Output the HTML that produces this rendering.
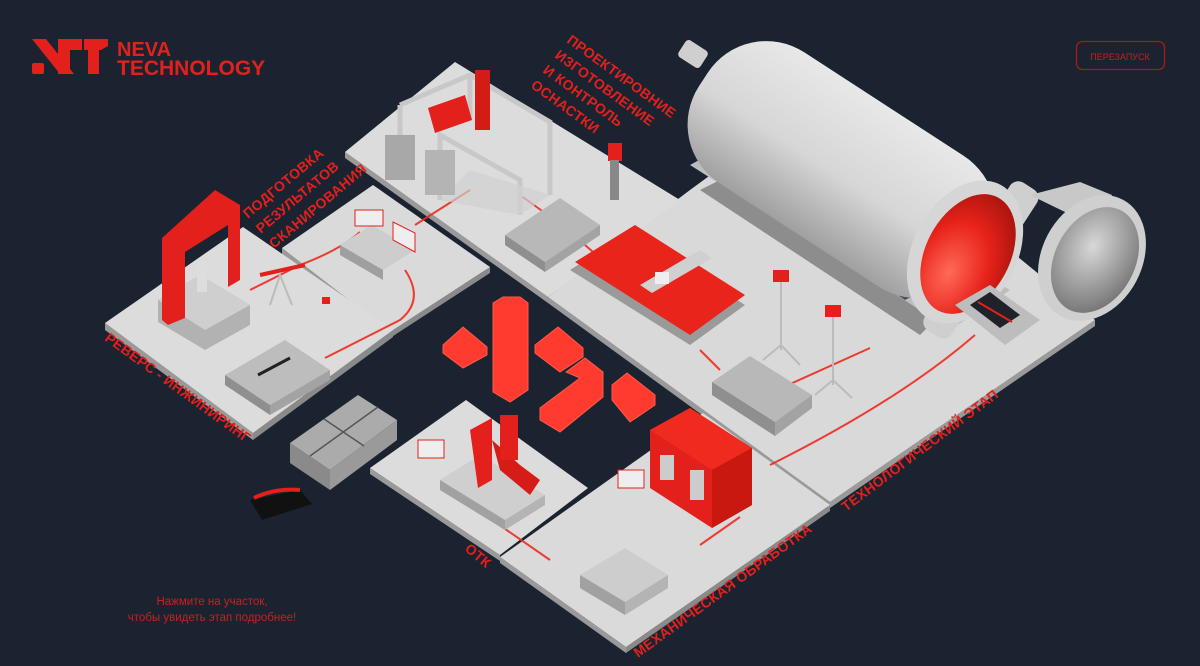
<!DOCTYPE html>
<html><head><meta charset="utf-8"><style>
html,body{margin:0;padding:0;background:#1b2331;}
body{width:1200px;height:666px;overflow:hidden;position:relative;font-family:"Liberation Sans",sans-serif;}
svg{position:absolute;left:0;top:0;}
.lbl{font-family:"Liberation Sans",sans-serif;font-weight:bold;fill:#e3201b;font-size:14px;letter-spacing:0.3px;}
</style></head><body>
<svg width="1200" height="666" viewBox="0 0 1200 666" xmlns="http://www.w3.org/2000/svg">
<defs>
<linearGradient id="cyl" x1="0" y1="0" x2="0" y2="1">
<stop offset="0" stop-color="#e8e8e8"/><stop offset="0.55" stop-color="#d6d6d6"/><stop offset="1" stop-color="#a0a0a0"/>
</linearGradient>
<radialGradient id="redin" cx="0.4" cy="0.7" r="0.7">
<stop offset="0" stop-color="#ff6a5a"/><stop offset="0.6" stop-color="#e8231a"/><stop offset="1" stop-color="#b0150f"/>
</radialGradient>
<radialGradient id="door" cx="0.4" cy="0.4" r="0.7">
<stop offset="0" stop-color="#d8d8d8"/><stop offset="1" stop-color="#6e6e6e"/>
</radialGradient>
</defs>

<g fill="#e3201b">
<polygon points="32,39 46,39 74,74 60,74"/>
<rect x="32" y="63" width="12" height="11" rx="2"/>
<polygon points="58,39 82,39 82,50 70,50 70,74 58,74"/>
<polygon points="84,39 108,39 108,46 101,50 99,50 99,74 88,74 88,50 84,50"/>
</g>
<text x="117" y="56" fill="#e3201b" font-family="Liberation Sans" font-weight="bold" font-size="20">NEVA</text>
<text x="117" y="75" fill="#e3201b" font-family="Liberation Sans" font-weight="bold" font-size="21">TECHNOLOGY</text>

<rect x="1076.5" y="41.5" width="88" height="28" rx="6" fill="none" stroke="#a81a18" stroke-width="1.3"/>
<text x="1120" y="60" fill="#c91d1a" font-size="9" text-anchor="middle" font-family="Liberation Sans">ПЕРЕЗАПУСК</text>

<g>
<polygon points="548,297 830,502 1095,320 1095,326 830,508 548,303" fill="#9a9a9a"/>
<polygon points="548,297 690,190 820,95 1095,320 830,502" fill="#d9d9d9"/>
<polygon points="345,152 548,297 548,303 345,158" fill="#9a9a9a"/>
<polygon points="345,152 455,62 680,200 548,297" fill="#dcdcdc"/>
<polygon points="282,248 390,332 390,338 282,254" fill="#9a9a9a"/>
<polygon points="390,332 490,267 490,273 390,338" fill="#8a8a8a"/>
<polygon points="282,248 373,185 490,267 390,332" fill="#dadada"/>
<polygon points="105,323 253,433 253,440 105,330" fill="#9a9a9a"/>
<polygon points="253,433 393,330 393,337 253,440" fill="#8a8a8a"/>
<polygon points="105,323 243,227 393,330 253,433" fill="#dcdcdc"/>
<polygon points="370,468 500,555 500,561 370,474" fill="#9a9a9a"/>
<polygon points="370,468 466,400 588,488 500,555" fill="#dcdcdc"/>
<polygon points="500,557 626,647 626,653 500,563" fill="#9a9a9a"/>
<polygon points="626,647 830,505 830,511 626,653" fill="#8a8a8a"/>
<polygon points="500,557 703,413 830,505 626,647" fill="#dadada"/>
</g>

<g stroke="#f0291f" stroke-width="2" fill="none" opacity="0.9">
<path d="M250,290 L300,265 Q340,250 360,232"/>
<path d="M405,270 Q425,300 400,320 L325,358"/>
<path d="M415,225 L470,190"/>
<path d="M520,195 L545,213"/>
<path d="M585,245 L600,258"/>
<path d="M700,350 L720,370"/>
<path d="M788,385 L870,348"/>
<path d="M770,465 Q900,400 975,335"/>
<path d="M700,545 L740,517"/>
<path d="M485,515 L550,560"/>
</g>

<polygon points="690,165 745,135 1010,290 950,330" fill="#bdbdbd"/>
<polygon points="700,190 720,180 935,320 920,335" fill="#8d8d8d"/>
<polygon points="715,170 740,158 935,285 905,300" fill="#4a4f57"/>
<g transform="translate(850,175) rotate(33)">
<rect x="-175" y="-78" width="330" height="156" rx="70" fill="url(#cyl)"/>
<rect x="140" y="-88" width="32" height="176" rx="10" fill="#cfcfcf"/>
</g>
<rect x="680" y="44" width="26" height="20" rx="4" fill="#cfcfcf" transform="rotate(33 693 54)"/>
<ellipse cx="965" cy="252" rx="52" ry="76" transform="rotate(28 965 252)" fill="#d6d6d6"/>
<ellipse cx="968" cy="254" rx="42" ry="64" transform="rotate(28 968 254)" fill="url(#redin)"/>
<polygon points="1030,195 1080,182 1112,195 1098,228" fill="#c8c8c8"/>
<ellipse cx="1092" cy="258" rx="50" ry="66" transform="rotate(28 1092 258)" fill="#cfcfcf"/>
<ellipse cx="1095" cy="260" rx="40" ry="56" transform="rotate(28 1095 260)" fill="url(#door)"/>
<polygon points="955,305 990,285 1040,320 1005,345" fill="#bdbdbd"/>
<polygon points="970,305 990,292 1020,315 1000,328" fill="#1f2228"/>
<line x1="978" y1="302" x2="1012" y2="322" stroke="#e3201b" stroke-width="2"/>

<g stroke="#c8c8c8" stroke-width="5" fill="none">
<path d="M400,105 L470,75 L550,122 L550,195"/>
<path d="M400,105 L400,150"/>
<path d="M470,75 L470,120"/>
<path d="M440,200 L440,135 L520,180 L520,215"/>
</g>
<polygon points="440,200 520,215 550,195 470,170" fill="#d0d0d0" opacity="0.7"/>
<rect x="385" y="135" width="30" height="45" fill="#a8a8a8"/>
<rect x="425" y="150" width="30" height="45" fill="#b4b4b4"/>
<polygon points="428,108 465,95 472,120 435,133" fill="#e3201b"/>
<rect x="475" y="70" width="15" height="60" fill="#d41c17"/>
<rect x="608" y="143" width="14" height="18" fill="#e3201b"/>
<rect x="610" y="160" width="9" height="40" fill="#888"/>
<polygon points="505,235 560,198 600,225 545,262" fill="#b8b8b8"/>
<polygon points="505,235 545,262 545,272 505,245" fill="#8f8f8f"/>
<polygon points="545,262 600,225 600,235 545,272" fill="#a3a3a3"/>

<polygon points="570,270 630,232 745,305 690,345" fill="#9a9a9a"/>
<polygon points="575,262 635,225 745,295 690,335" fill="#e8241b"/>
<polygon points="640,285 700,250 712,258 652,293" fill="#d0d0d0"/>
<rect x="655" y="272" width="14" height="12" fill="#eee"/>

<rect x="773" y="270" width="16" height="12" fill="#e3201b"/>
<line x1="781" y1="282" x2="781" y2="350" stroke="#bbb" stroke-width="2"/>
<path d="M763,360 L781,345 L800,365" stroke="#bbb" stroke-width="2" fill="none"/>
<rect x="825" y="305" width="16" height="12" fill="#e3201b"/>
<line x1="833" y1="317" x2="833" y2="385" stroke="#bbb" stroke-width="2"/>
<path d="M815,395 L833,380 L852,398" stroke="#bbb" stroke-width="2" fill="none"/>
<polygon points="712,382 750,356 812,395 775,422" fill="#b8b8b8"/>
<polygon points="712,382 775,422 775,436 712,395" fill="#8f8f8f"/>
<polygon points="775,422 812,395 812,408 775,436" fill="#a3a3a3"/>

<polygon points="158,300 200,275 250,305 250,325 205,350 158,322" fill="#b2b2b2"/>
<polygon points="158,300 200,275 250,305 205,330" fill="#cfcfcf"/>
<polygon points="162,238 215,190 240,205 240,280 228,287 228,225 185,252 185,318 168,325 162,320" fill="#e3201b"/>
<rect x="197" y="262" width="10" height="30" fill="#ddd"/>
<line x1="260" y1="275" x2="305" y2="265" stroke="#e3201b" stroke-width="4"/>
<path d="M270,305 L280,275 L292,305" stroke="#bbb" stroke-width="2" fill="none"/>
<rect x="322" y="297" width="8" height="7" fill="#e3201b"/>
<polygon points="225,375 285,340 330,370 270,405" fill="#bdbdbd"/>
<polygon points="225,375 270,405 270,415 225,385" fill="#8f8f8f"/>
<polygon points="270,405 330,370 330,380 270,415" fill="#a3a3a3"/>
<line x1="258" y1="375" x2="290" y2="358" stroke="#222" stroke-width="3"/>
<polygon points="340,245 372,225 415,250 383,270" fill="#cdcdcd"/>
<polygon points="340,245 383,270 383,280 340,255" fill="#9f9f9f"/>
<rect x="355" y="210" width="28" height="16" fill="#eee" stroke="#e3201b" stroke-width="1"/>
<polygon points="393,222 415,233 415,252 393,240" fill="#eee" stroke="#e3201b" stroke-width="1"/>

<polygon points="290,443 358,395 397,420 330,470" fill="#ababab"/>
<polygon points="290,443 330,470 330,490 290,463" fill="#8a8a8a"/>
<polygon points="330,470 397,420 397,440 330,490" fill="#9a9a9a"/>
<line x1="324" y1="419" x2="364" y2="446" stroke="#555" stroke-width="1.5"/>
<line x1="310" y1="456" x2="378" y2="407" stroke="#555" stroke-width="1.5"/>
<polygon points="250,500 300,490 312,504 262,520" fill="#111"/>
<path d="M254,498 Q275,488 300,490" stroke="#e3201b" stroke-width="4" fill="none"/>

<polygon points="440,480 480,455 545,495 505,520" fill="#cfcfcf"/>
<polygon points="440,480 505,520 505,530 440,490" fill="#a1a1a1"/>
<polygon points="505,520 545,495 545,505 505,530" fill="#b4b4b4"/>
<polygon points="470,430 492,418 492,480 478,488" fill="#e3201b"/>
<polygon points="492,440 520,465 540,480 530,495 500,470" fill="#d61c17"/>
<rect x="500" y="415" width="18" height="45" fill="#e3201b"/>
<rect x="418" y="440" width="26" height="18" fill="#eee" stroke="#e3201b"/>

<polygon points="650,430 690,408 752,448 752,505 712,528 650,488" fill="#e3201b"/>
<polygon points="650,430 690,408 752,448 712,470" fill="#f02a1f"/>
<polygon points="712,470 752,448 752,505 712,528" fill="#c8180f"/>
<rect x="660" y="455" width="14" height="25" fill="#ccc"/>
<rect x="690" y="470" width="14" height="30" fill="#ccc"/>
<polygon points="580,575 625,548 668,575 625,602" fill="#cdcdcd"/>
<polygon points="580,575 625,602 625,615 580,588" fill="#a1a1a1"/>
<polygon points="625,602 668,575 668,588 625,615" fill="#b4b4b4"/>
<rect x="618" y="470" width="26" height="18" fill="#eee" stroke="#e3201b"/>

<g fill="#ff3b2f" stroke="#ff5a48" stroke-width="1">
<polygon points="443,345 463,327 487,347 487,355 463,368 443,353"/>
<polygon points="493,303 503,297 520,297 528,303 528,390 510,402 493,392"/>
<polygon points="535,345 558,327 583,348 583,357 560,372 535,353"/>
<polygon points="566,372 585,358 603,372 603,397 560,432 540,420 540,408 580,378"/>
<polygon points="612,385 627,373 655,395 655,405 630,422 612,400"/>
</g>

<text class="lbl" transform="translate(566,42) rotate(36)">ПРОЕКТИРОВНИЕ</text>
<text class="lbl" transform="translate(554,57) rotate(36)">ИЗГОТОВЛЕНИЕ</text>
<text class="lbl" transform="translate(542,72) rotate(36)">И КОНТРОЛЬ</text>
<text class="lbl" transform="translate(530,87) rotate(36)">ОСНАСТКИ</text>
<text class="lbl" transform="translate(248,219) rotate(-40)">ПОДГОТОВКА</text>
<text class="lbl" transform="translate(261,234) rotate(-40)">РЕЗУЛЬТАТОВ</text>
<text class="lbl" transform="translate(274,249) rotate(-40)">СКАНИРОВАНИЯ</text>
<text class="lbl" transform="translate(104,340) rotate(36)">РЕВЕРС - ИНЖИНИРИНГ</text>
<text class="lbl" transform="translate(846,512) rotate(-37)">ТЕХНОЛОГИЧЕСКИЙ ЭТАП</text>
<text class="lbl" transform="translate(638,658) rotate(-36)">МЕХАНИЧЕСКАЯ ОБРАБОТКА</text>
<text class="lbl" transform="translate(464,550) rotate(40)">ОТК</text>

<text x="212" y="605" fill="#c8201c" font-size="11.5" text-anchor="middle" font-family="Liberation Sans">Нажмите на участок,</text>
<text x="212" y="621" fill="#c8201c" font-size="11.5" text-anchor="middle" font-family="Liberation Sans">чтобы увидеть этап подробнее!</text>
</svg>
</body></html>
